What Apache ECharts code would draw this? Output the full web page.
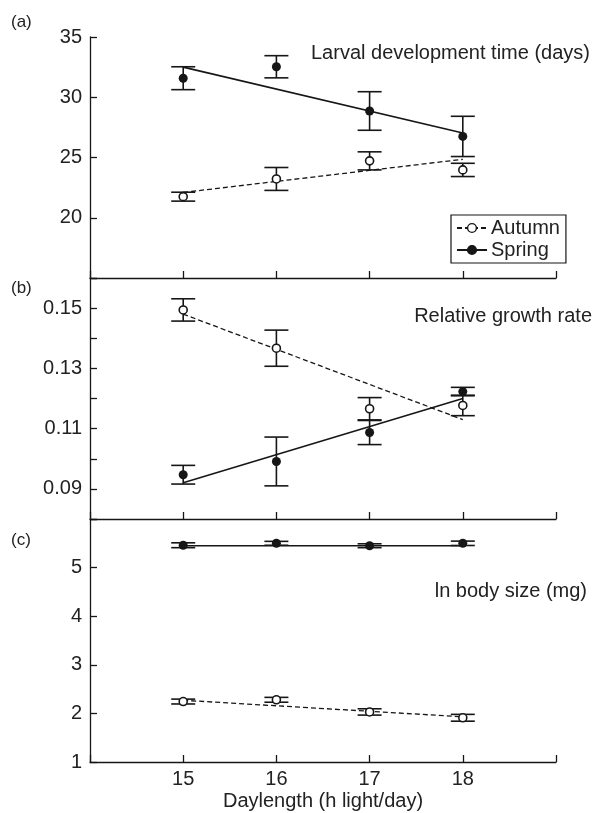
<!DOCTYPE html>
<html><head><meta charset="utf-8">
<script src="https://cdn.jsdelivr.net/npm/echarts@6/dist/echarts.min.js"></script>
<style>html,body{margin:0;padding:0;background:#fff}#c{width:594px;height:813px}</style>
</head><body><div id="c"></div>
<script>
// ---- data ----
const days = [15, 16, 17, 18];
const fitX = [15, 18];
// (a) Larval development time (days)
const devAutumn = [21.75, 23.22, 24.72, 23.97];
const devAutumnErr = [0.37, 0.95, 0.75, 0.55];
const devSpring = [31.58, 32.53, 28.86, 26.75];
const devSpringErr = [0.95, 0.92, 1.6, 1.67];
const devFitAutumn = [22.1, 24.85];
const devFitSpring = [32.5, 27.03];
// (b) Relative growth rate
const rgrAutumn = [0.1494, 0.1367, 0.1166, 0.1177];
const rgrAutumnErr = [0.0037, 0.006, 0.0037, 0.0034];
const rgrSpring = [0.0947, 0.0991, 0.1087, 0.1223];
const rgrSpringErr = [0.0031, 0.0081, 0.004, 0.0014];
const rgrFitAutumn = [0.148, 0.113];
const rgrFitSpring = [0.092, 0.120];
// (c) ln body size (mg)
const sizeAutumn = [2.244, 2.28, 2.03, 1.91];
const sizeAutumnErr = [0.05, 0.05, 0.065, 0.07];
const sizeSpring = [5.46, 5.50, 5.45, 5.50];
const sizeSpringErr = [0.05, 0.04, 0.04, 0.045];
const sizeFitAutumn = [2.27, 1.93];
const sizeFitSpring = [5.45, 5.45];

const panelTitles = ['Larval development time (days)', 'Relative growth rate', 'ln body size (mg)'];
const panelTags = ['(a)', '(b)', '(c)'];
const xTitle = 'Daylength (h light/day)';

// ---- build ----
const FONT = '"Liberation Sans", Arial, Helvetica, sans-serif';
const INK = '#161616';
const chart = echarts.init(document.getElementById('c'), null, {renderer: 'canvas'});

const grids = [
  {left: 90, width: 466, top: 37, height: 241},
  {left: 90, width: 466, top: 278, height: 241},
  {left: 90, width: 466, top: 519, height: 243}
];
function xAxisFor(i) {
  return {
    type: 'value', gridIndex: i, min: 14, max: 19, interval: 1,
    axisLine: {lineStyle: {color: INK, width: 1.3}},
    axisTick: {inside: true, length: 7, lineStyle: {color: INK, width: 1.3}},
    splitLine: {show: false},
    axisLabel: {show: i === 2, color: '#222', fontSize: 20, fontFamily: FONT, margin: 7,
      formatter: v => (v === 14 || v === 19) ? '' : String(v)},
    name: i === 2 ? xTitle : '', nameLocation: 'middle', nameGap: 29,
    nameTextStyle: {color: '#222', fontSize: 20, fontFamily: FONT}
  };
}
const yCfg = [
  {min: 15, max: 35, interval: 5, fmt: v => v === 15 ? '' : String(v)},
  {min: 0.08, max: 0.16, interval: 0.01, fmt: v => (Math.round(v * 100) % 2 === 1) ? v.toFixed(2) : ''},
  {min: 1, max: 6, interval: 1, fmt: v => v === 6 ? '' : String(v)}
];
const yAxes = yCfg.map((c, i) => ({
  type: 'value', gridIndex: i, min: c.min, max: c.max, interval: c.interval,
  axisLine: {show: true, lineStyle: {color: INK, width: 1.3}},
  axisTick: {show: true, inside: true, length: 7, lineStyle: {color: INK, width: 1.3}},
  splitLine: {show: false},
  axisLabel: {color: '#222', fontSize: 20, fontFamily: FONT, margin: 8, formatter: c.fmt}
}));

function errRender(params, api) {
  const x = api.value(0), lo = api.value(1), hi = api.value(2);
  const a = api.coord([x, lo]), b = api.coord([x, hi]);
  const hw = 12;
  const style = {stroke: INK, lineWidth: 1.6, fill: null};
  return {type: 'group', children: [
    {type: 'line', shape: {x1: a[0], y1: a[1], x2: b[0], y2: b[1]}, style},
    {type: 'line', shape: {x1: a[0] - hw, y1: a[1], x2: a[0] + hw, y2: a[1]}, style},
    {type: 'line', shape: {x1: b[0] - hw, y1: b[1], x2: b[0] + hw, y2: b[1]}, style}
  ]};
}
const panels = [
  {aut: devAutumn, autE: devAutumnErr, spr: devSpring, sprE: devSpringErr, fa: devFitAutumn, fs: devFitSpring},
  {aut: rgrAutumn, autE: rgrAutumnErr, spr: rgrSpring, sprE: rgrSpringErr, fa: rgrFitAutumn, fs: rgrFitSpring},
  {aut: sizeAutumn, autE: sizeAutumnErr, spr: sizeSpring, sprE: sizeSpringErr, fa: sizeFitAutumn, fs: sizeFitSpring}
];
const series = [];
// fitted lines first (legend takes icon from first series of a name)
panels.forEach((p, i) => {
  series.push({
    name: 'Autumn', type: 'line', xAxisIndex: i, yAxisIndex: i,
    data: fitX.map((x, k) => [x, p.fa[k]]),
    symbol: 'circle', showSymbol: false, z: 2,
    lineStyle: {color: INK, width: 1.3, type: [5, 3]},
    itemStyle: {color: '#fff', borderColor: INK, borderWidth: 1.4}
  });
  series.push({
    name: 'Spring', type: 'line', xAxisIndex: i, yAxisIndex: i,
    data: fitX.map((x, k) => [x, p.fs[k]]),
    symbol: 'circle', showSymbol: false, z: 2,
    lineStyle: {color: INK, width: 1.6, type: 'solid'},
    itemStyle: {color: INK, borderColor: INK, borderWidth: 1}
  });
});
panels.forEach((p, i) => {
  series.push({
    name: 'Autumn err', type: 'custom', xAxisIndex: i, yAxisIndex: i, z: 3,
    renderItem: errRender, encode: {x: 0, y: [1, 2]},
    data: days.map((d, k) => [d, p.aut[k] - p.autE[k], p.aut[k] + p.autE[k]])
  });
  series.push({
    name: 'Spring err', type: 'custom', xAxisIndex: i, yAxisIndex: i, z: 3,
    renderItem: errRender, encode: {x: 0, y: [1, 2]},
    data: days.map((d, k) => [d, p.spr[k] - p.sprE[k], p.spr[k] + p.sprE[k]])
  });
  series.push({
    name: 'Autumn pts', type: 'scatter', xAxisIndex: i, yAxisIndex: i, z: 4,
    symbol: 'circle', symbolSize: 8,
    itemStyle: {color: '#fff', borderColor: INK, borderWidth: 1.6, opacity: 1},
    data: days.map((d, k) => [d, p.aut[k]])
  });
  series.push({
    name: 'Spring pts', type: 'scatter', xAxisIndex: i, yAxisIndex: i, z: 4,
    symbol: 'circle', symbolSize: 9,
    itemStyle: {color: INK, opacity: 1},
    data: days.map((d, k) => [d, p.spr[k]])
  });
});

const titles = [];
const titleTops = [43, 306, 581];
const titleRights = [4, 2, 7];
panelTitles.forEach((t, i) => titles.push({
  text: t, right: titleRights[i], top: titleTops[i], padding: 0,
  textStyle: {color: '#222', fontSize: 20, fontWeight: 'normal', fontFamily: FONT}
}));
const tagTops = [14, 280, 532];
panelTags.forEach((t, i) => titles.push({
  text: t, left: 11, top: tagTops[i], padding: 0,
  textStyle: {color: '#222', fontSize: 17, fontWeight: 'normal', fontFamily: FONT}
}));

chart.setOption({
  animation: false,
  backgroundColor: '#fff',
  title: titles,
  grid: grids,
  xAxis: [0, 1, 2].map(xAxisFor),
  yAxis: yAxes,
  legend: {
    data: ['Autumn', 'Spring'], orient: 'vertical', left: 451, top: 215,
    padding: [3, 6, 3, 5], itemGap: 2, itemWidth: 30, itemHeight: 11,
    borderColor: INK, borderWidth: 1.2, borderRadius: 0, selectedMode: false,
    itemStyle: {borderWidth: 1.4},
    textStyle: {color: '#222', fontSize: 20, fontFamily: FONT, padding: [0, 0, 0, -1]}
  },
  series
});
</script></body></html>
